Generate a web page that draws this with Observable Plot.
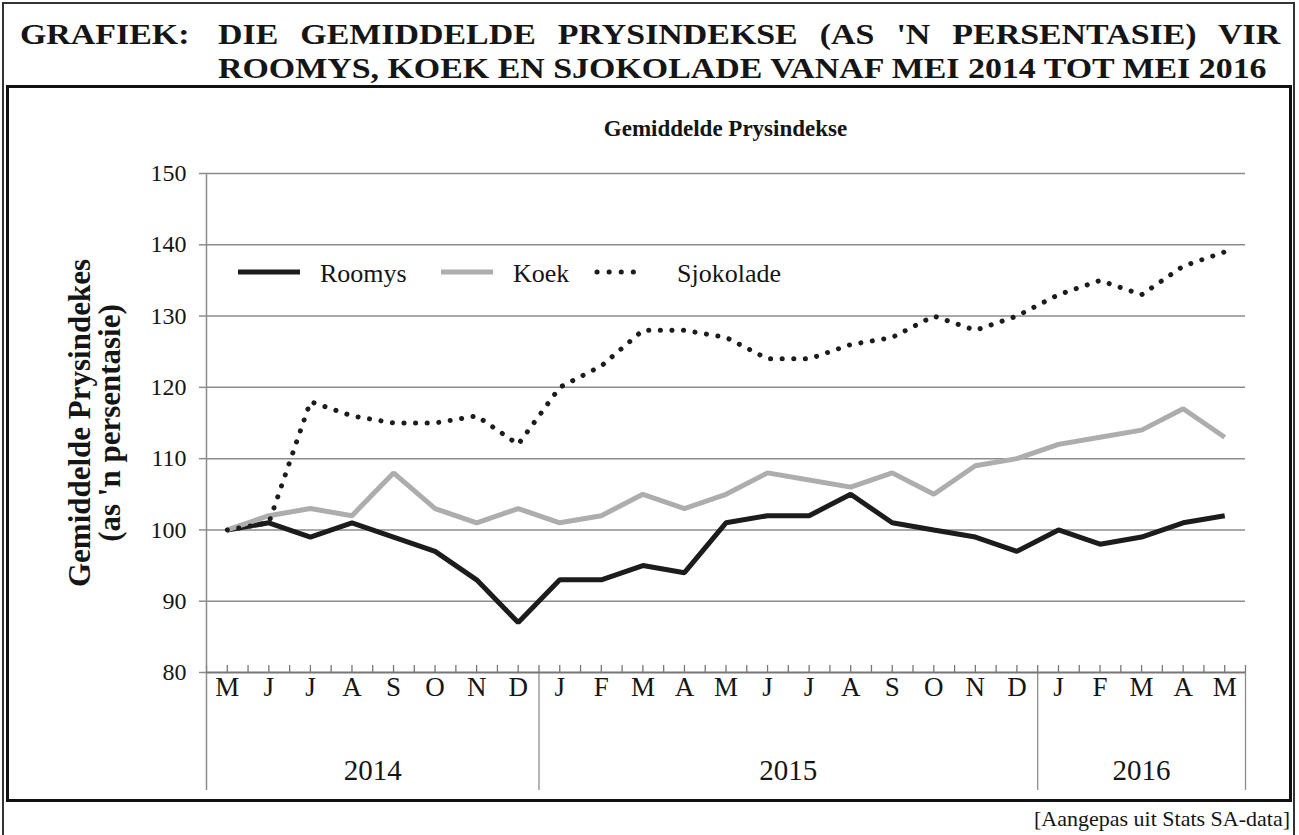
<!DOCTYPE html>
<html><head><meta charset="utf-8">
<script src="https://cdn.jsdelivr.net/npm/d3@7"></script>
<script src="https://cdn.jsdelivr.net/npm/@observablehq/plot@0.6"></script>
<style>
html,body{margin:0;padding:0;background:#fff;}
#page{position:relative;width:1299px;height:835px;overflow:hidden;font-family:"Liberation Serif","Times New Roman",serif;color:#151515;}
#outer{position:absolute;left:2px;top:2px;width:1293px;height:860px;border:2px solid #333;box-sizing:border-box;}
#box{position:absolute;left:6px;top:85px;width:1286px;height:717px;border:3px solid #111;box-sizing:border-box;z-index:3;}
.t{position:absolute;font-weight:bold;font-size:30px;white-space:nowrap;line-height:33px;height:33px;transform-origin:0 50%;transform:scaleX(1.13);}
#t1b{left:218px;width:940px;text-align:justify;text-align-last:justify;white-space:normal;}
#ctitle{position:absolute;left:0;width:1451px;text-align:center;top:117px;font-weight:bold;font-size:23px;line-height:1;}
#chart{position:absolute;left:0;top:100px;}
#legend{position:absolute;top:259px;left:0;height:26px;font-size:26px;line-height:26px;z-index:2;}
#legend .it{position:absolute;top:2px;white-space:nowrap;}
#caption{position:absolute;right:9px;top:808px;font-size:22px;line-height:1;}
</style></head>
<body>
<div id="page">
  <div id="outer"></div>
  <div class="t" style="left:20px;top:17px;">GRAFIEK:</div>
  <div class="t" id="t1b" style="top:17px;">DIE GEMIDDELDE PRYSINDEKSE (AS 'N PERSENTASIE) VIR</div>
  <div class="t" style="left:218px;top:51px;">ROOMYS, KOEK EN SJOKOLADE VANAF MEI 2014 TOT MEI 2016</div>
  <div id="ctitle">Gemiddelde Prysindekse</div>
  <div id="chart"></div>
  <div id="legend"></div>
  <div id="box"></div>
  <div id="caption">[Aangepas uit Stats SA-data]</div>
</div>
<script>
// ---- data ----
const months = ["M","J","J","A","S","O","N","D","J","F","M","A","M","J","J","A","S","O","N","D","J","F","M","A","M"];
const years = ["2014","2015","2016"];
const yearStart = [0, 8, 20];   // index of first month of each year
const yearEnd = [7, 19, 24];    // index of last month of each year
const roomys = [100,101,99,101,99,97,93,87,93,93,95,94,101,102,102,105,101,100,99,97,100,98,99,101,102];
const koek = [100,102,103,102,108,103,101,103,101,102,105,103,105,108,107,106,108,105,109,110,112,113,114,117,113];
const sjokolade = [100,101,118,116,115,115,116,112,120,123,128,128,127,124,124,126,127,130,128,130,133,135,133,137,139];
const seriesNames = ["Roomys","Koek","Sjokolade"];
const yTicks = [80,90,100,110,120,130,140,150];
const yLabel = "Gemiddelde Prysindekes\n(as 'n persentasie)";

const styles = {
  Roomys: {stroke:"#1c1c1c", strokeWidth:5, dash:null},
  Koek: {stroke:"#adadad", strokeWidth:5, dash:null},
  Sjokolade: {stroke:"#1c1c1c", strokeWidth:5, dash:"0.1,11.5"}
};

const valuesBy = {Roomys: roomys, Koek: koek, Sjokolade: sjokolade};
const rows = seriesNames.flatMap(s => valuesBy[s].map((v,i)=>({series:s, i, v})));
const idx = d3.range(months.length);
const halfTicks = d3.range(-0.5, months.length, 0.5);
const yearRows = years.map((y,k)=>({year:y, mid:(yearStart[k]+yearEnd[k])/2}));
const separators = [-0.5, ...yearEnd.map(e=>e+0.5)];

const gridCol = "#8c8c8c";

const lineMarks = seriesNames.map(s => Plot.line(rows.filter(r=>r.series===s), {
  x:"i", y:"v", stroke: styles[s].stroke, strokeWidth: styles[s].strokeWidth,
  strokeDasharray: styles[s].dash || undefined, strokeLinecap: styles[s].dash ? "round" : "butt",
  strokeLinejoin: "miter"
}));

const chart = Plot.plot({
  width: 1299, height: 700,
  marginTop: 73, marginBottom: 128, marginLeft: 206, marginRight: 54,
  style: {background:"transparent", fontFamily:"'Liberation Serif','Times New Roman',serif", color:"#151515"},
  x: {type:"linear", domain:[-0.5, months.length-0.5]},
  y: {domain:[80,150]},
  marks: [
    Plot.ruleY(yTicks.filter(v=>v>80), {stroke:gridCol, strokeWidth:1.5}),
    Plot.axisY({ticks:yTicks, tickSize:7, tickPadding:13, fontSize:24, stroke:gridCol, strokeWidth:1.5, label:null}),
    Plot.axisX({ticks:idx, tickFormat:i=>months[i], tickSize:0, tickPadding:4, fontSize:27, label:null}),
    Plot.ruleX(halfTicks, {y1:80, y2:80, insetTop:-7, stroke:"#777", strokeWidth:1.3}),
    Plot.ruleX([-0.5], {stroke:gridCol, strokeWidth:1.5, insetBottom:-118}),
    Plot.ruleX(separators.slice(1), {y1:80, y2:80, stroke:gridCol, strokeWidth:1.3, insetBottom:-118}),
    Plot.ruleY([80], {stroke:"#777", strokeWidth:2}),
    Plot.text(yearRows, {x:"mid", y:()=>80, text:"year", dy:98, fontSize:29}),
    Plot.text([yLabel], {frameAnchor:"left", dx:-111, rotate:-90, textAnchor:"middle", lineAnchor:"middle", fontSize:31, fontWeight:"bold", lineHeight:0.97, text:d=>d}),
    ...lineMarks
  ]
});
document.getElementById("chart").appendChild(chart);

// legend
const lg = document.getElementById("legend");
const legendPos = {Roomys:{line:238, len:62, text:320}, Koek:{line:441, len:52, text:513}, Sjokolade:{line:597, len:48, text:677}};
seriesNames.forEach(s=>{
  const p = legendPos[s], st = styles[s];
  const ns = "http://www.w3.org/2000/svg";
  const svg = document.createElementNS(ns,"svg");
  svg.setAttribute("width", p.len+10); svg.setAttribute("height", 26);
  svg.style.position="absolute"; svg.style.left=(p.line-5)+"px"; svg.style.top="0px";
  const ln = document.createElementNS(ns,"line");
  ln.setAttribute("x1",5); ln.setAttribute("x2",5+p.len); ln.setAttribute("y1",13); ln.setAttribute("y2",13);
  ln.setAttribute("stroke",st.stroke); ln.setAttribute("stroke-width",st.strokeWidth);
  if (st.dash){ ln.setAttribute("stroke-dasharray","0.1,12"); ln.setAttribute("stroke-linecap","round"); }
  svg.appendChild(ln); lg.appendChild(svg);
  const t = document.createElement("div"); t.className="it"; t.style.left=p.text+"px"; t.textContent=s;
  lg.appendChild(t);
});
</script>
</body></html>
